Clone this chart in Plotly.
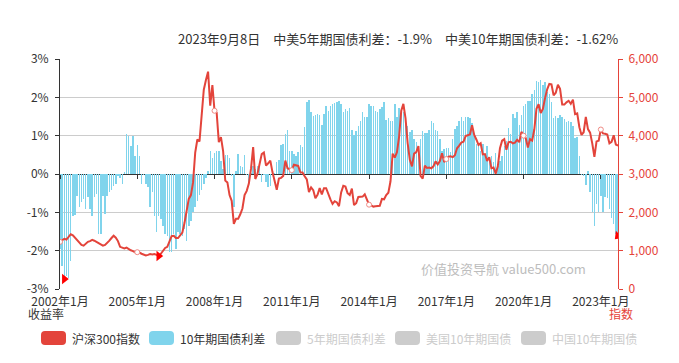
import plotly.graph_objects as go

# ---------------- data ----------------
n_months = 261
months = [f"{2002 + i // 12}年{i % 12 + 1}月" for i in range(n_months)]
tick_labels = ["2002年1月", "2005年1月", "2008年1月", "2011年1月",
               "2014年1月", "2017年1月", "2020年1月", "2023年1月"]

# 中美10年期国债利差 (%)
spread_10y = [
    -1.95, -2.4, -2.74, -2.65, -2.7, -2.26, -1.1, -1.08, -0.57, -0.87, -0.74, -0.65,
    -0.91, -0.61, -0.91, -1.09, -0.61, -0.52, -1.57, -1.57, -0.57, -1.04, -0.57, -0.48,
    -0.43, -0.3, -0.26, -0.05, -0.1, -0.26, 0.04, 1.04, 1.0, 0.74, 0.98, 0.48,
    0.76, 0.46, -0.26, -0.03, -0.26, -0.35, -0.87, -0.46, -1.09, -1.52, -1.09, -1.17,
    -1.35, -1.57, -1.61, -2.04, -2.04, -1.57, -1.96, -1.52, -1.57, -1.61, -1.43, -1.74,
    -1.35, -1.22, -1.0, -0.85, -0.7, -0.55, -0.43, -0.26, -0.11, 0.09, 0.61, 0.43,
    0.54, 0.6, 0.6, 0.35, 0.13, 0.5, 0.5, 0.43, -0.04, -0.87, 0.09, 0.52,
    0.22, 0.17, 0.5, -0.02, -0.22, 0.02, 0.22, 0.13, 0.22, 0.23, -0.22, -0.02,
    -0.22, -0.35, -0.3, 0.02, 0.03, 0.32, 0.37, 0.76, 0.78, 1.04, 1.16, 0.6,
    0.6, 0.52, 0.46, 0.57, 0.76, 0.7, 1.22, 1.89, 1.94, 1.61, 1.52, 1.54,
    1.57, 1.55, 1.28, 1.57, 1.77, 1.65, 1.77, 1.83, 1.85, 1.89,
    1.91, 1.83, 1.61, 1.7, 1.65, 1.71, 1.15, 1.02, 1.13, 1.26, 1.39, 1.61,
    1.5, 1.5, 1.83, 1.78, 1.78, 1.65, 1.61, 1.7, 1.74, 1.89, 1.42, 1.45,
    1.37, 1.39, 1.83, 1.48, 1.71, 1.7, 1.61, 1.48, 1.26, 1.1, 1.15, 0.91,
    0.83, 0.72, 0.91, 1.13, 1.07, 1.07, 1.16, 1.37, 1.33, 1.16, 1.13, 0.91,
    0.6, 0.65, 0.67, 0.67, 0.58, 0.91, 1.17, 1.26, 1.39, 1.5, 1.39, 1.48,
    1.48, 1.45, 1.33, 1.0, 0.78, 0.72, 0.6, 0.78, 0.52, 0.72, 0.41, 0.48,
    0.32, 0.55, 0.22, 0.35, 0.48, 0.72, 0.87, 1.2, 1.04, 1.57, 1.45, 1.61,
    1.28, 1.54, 1.77, 1.83, 1.91, 1.91, 2.1, 2.2, 2.43, 2.4, 2.46, 2.32,
    2.4, 2.15, 2.1, 1.87, 1.45, 1.52, 1.45, 1.54, 1.5, 1.43, 1.35, 1.39,
    1.35, 1.26, 0.93, 0.96, 0.48, -0.03, -0.06, -0.29, 0.09, -0.48, -1.0, -1.35,
    -0.78, -1.0, -0.57, -1.0, -0.61, -0.63, -0.9, -1.16, -1.3, -1.57, -1.62,
]

# 沪深300指数
csi300 = [
    1230, 1270, 1310, 1290, 1350, 1430, 1400, 1330, 1280, 1220, 1150, 1130,
    1180, 1230, 1250, 1280, 1260, 1230, 1180, 1150, 1130, 1150, 1200, 1260,
    1330, 1390, 1340, 1250, 1100, 1080, 1060, 1080, 1040, 1010, 990, 960,
    960, 950, 920, 890, 875, 890, 910, 900, 910, 890, 860, 920,
    1010, 1070, 1100, 1230, 1380, 1390, 1330, 1330, 1400, 1470, 1720, 2040,
    2350, 2450, 2780, 3560, 3900, 3850, 4500, 5200, 5450, 5670, 4780, 5320,
    4650, 4600, 3830, 3960, 3600, 2830, 2780, 2450, 2300, 1700, 1830, 1830,
    1950, 2100, 2450, 2560, 2750, 3140, 3700, 2870, 3000, 3250, 3520, 3560,
    3220, 3280, 3350, 3050, 2800, 2590, 2880, 2900, 2950, 3350, 3150, 3130,
    3100, 3240, 3220, 3210, 3040, 3040, 2940, 2860, 2530, 2650, 2580, 2370,
    2460, 2630, 2470, 2630, 2630, 2460, 2340, 2220, 2290, 2260, 2160, 2520,
    2690, 2670, 2500, 2450, 2620, 2190, 2240, 2400, 2410, 2410, 2470, 2330,
    2200, 2180, 2150, 2160, 2160, 2170, 2350, 2340, 2450, 2510, 2810, 3530,
    3430, 3570, 3970, 4650, 4830, 4450, 3800, 3370, 3200, 3530, 3570, 3730,
    2950, 2880, 3220, 3160, 3170, 3150, 3200, 3330, 3250, 3340, 3540, 3310,
    3390, 3450, 3460, 3440, 3490, 3670, 3740, 3820, 3840, 3990, 4010, 4030,
    4270, 4020, 3900, 3760, 3800, 3510, 3520, 3340, 3440, 3150, 3170, 3010,
    3200, 3670, 3870, 3910, 3630, 3830, 3840, 3800, 3820, 3890, 3830, 4100,
    4000, 3940, 3690, 3910, 3870, 4160, 4700, 4820, 4590, 4700, 4980, 5210,
    5350, 5340, 5050, 5120, 5330, 5220, 4810, 4810, 4870, 4910, 4830, 4940,
    4560, 4580, 4220, 4020, 4090, 4490, 4170, 4080, 3800, 3450, 3850, 3870,
    4160, 4060, 4050, 4030, 3800, 3840, 4010, 3770, 3740,
]

left_ticks = [-3, -2, -1, 0, 1, 2, 3]
right_ticks = [0, 1000, 2000, 3000, 4000, 5000, 6000]

title_text = "2023年9月8日　中美5年期国债利差：-1.9%　中美10年期国债利差：-1.62%"
legend_names = ["沪深300指数", "10年期国债利差", "5年期国债利差", "美国10年期国债", "中国10年期国债"]
legend_active = [True, True, False, False, False]

assert len(spread_10y) == n_months and len(csi300) == n_months

# ---------------- style ----------------
RED = "#e3443b"
AXIS_RED = "#e5433a"
BLUE = "#80d4ec"
GREY_TXT = "#333333"
FONT = "Noto Sans CJK SC"

W, H = 679, 363
L, R, T, B = 60, 61, 59, 74
PW, PH = W - L - R, H - T - B


def px_x(px):
    return (px - L) / PW


def px_y(py):
    return (T + PH - py) / PH


x = list(range(n_months))
tick_pos = [months.index(t) for t in tick_labels]

fig = go.Figure()

fig.add_trace(go.Bar(
    x=x, y=spread_10y, marker=dict(color=BLUE, line=dict(width=0)),
    width=0.68, yaxis="y", hoverinfo="skip", showlegend=False,
))

fig.add_trace(go.Scatter(
    x=x, y=csi300, mode="lines", line=dict(color=RED, width=2),
    yaxis="y2", hoverinfo="skip", showlegend=False,
))

fig.add_trace(go.Scatter(
    x=tick_pos, y=[csi300[i] for i in tick_pos], mode="markers",
    marker=dict(symbol="circle", size=5, color="white", line=dict(color="#f08a84", width=1)),
    yaxis="y2", hoverinfo="skip", showlegend=False,
))

# mark points
i_bar_min = spread_10y.index(min(spread_10y))
i_line_min = csi300.index(min(csi300))
i_last = n_months - 1
fig.add_trace(go.Scatter(
    x=[i_bar_min, i_last], y=[spread_10y[i_bar_min], spread_10y[i_last]], mode="markers",
    marker=dict(symbol=["triangle-right", "triangle-down"], angle=[0, 45], size=9, color="#ff0000"),
    yaxis="y", hoverinfo="skip", showlegend=False,
))
fig.add_trace(go.Scatter(
    x=[i_line_min], y=[csi300[i_line_min]], mode="markers",
    marker=dict(symbol="triangle-right", size=9, color="#ff0000"),
    yaxis="y2", hoverinfo="skip", showlegend=False,
))

# dummy trace to carry the zero-line tick axis
fig.add_trace(go.Scatter(
    x=[0, n_months - 1], y=[0, 0], xaxis="x2", yaxis="y", mode="lines",
    line=dict(width=0), opacity=0, hoverinfo="skip", showlegend=False,
))

# ---------------- custom legend ----------------
def rrect(x0, y0, x1, y1, r):
    pts = [
        ("M", (x0 + r, y0)), ("L", (x1 - r, y0)), ("Q", (x1, y0), (x1, y0 + r)),
        ("L", (x1, y1 - r)), ("Q", (x1, y1), (x1 - r, y1)), ("L", (x0 + r, y1)),
        ("Q", (x0, y1), (x0, y1 - r)), ("L", (x0, y0 + r)), ("Q", (x0, y0), (x0 + r, y0)),
    ]
    s = ""
    for p in pts:
        cmd = p[0]
        coords = " ".join(f"{px_x(a):.5f},{px_y(b):.5f}" for a, b in p[1:])
        s += f"{cmd}{coords} "
    return s + "Z"


shapes = []
annotations = []
legend_colors = [RED, BLUE, "#cccccc", "#cccccc", "#cccccc"]
legend_sw_x = [41, 149, 276, 395, 521]
leg_y = 338
for name, col, active, sx in zip(legend_names, legend_colors, legend_active, legend_sw_x):
    shapes.append(dict(type="path", xref="paper", yref="paper",
                       path=rrect(sx, leg_y - 7, sx + 25, leg_y + 7, 4),
                       fillcolor=col if active else "#cccccc", line=dict(width=0)))
    annotations.append(dict(text=name, xref="paper", yref="paper",
                            x=px_x(sx + 29), y=px_y(leg_y), xanchor="left", yanchor="middle",
                            showarrow=False,
                            font=dict(size=12, color=GREY_TXT if active else "#cccccc", family=FONT)))

annotations += [
    dict(text=title_text, xref="paper", yref="paper", x=px_x(620), y=px_y(38),
         xanchor="right", yanchor="middle", showarrow=False,
         font=dict(size=13, color=GREY_TXT, family=FONT)),
    dict(text="收益率", xref="paper", yref="paper", x=px_x(46), y=px_y(313),
         xanchor="center", yanchor="middle", showarrow=False,
         font=dict(size=12, color=GREY_TXT, family=FONT)),
    dict(text="指数", xref="paper", yref="paper", x=px_x(621), y=px_y(313),
         xanchor="center", yanchor="middle", showarrow=False,
         font=dict(size=12, color=AXIS_RED, family=FONT)),
    dict(text="价值投资导航 value500.com", xref="paper", yref="paper", x=px_x(588), y=px_y(268),
         xanchor="right", yanchor="middle", showarrow=False,
         font=dict(size=13, color="#bdbdbd", family=FONT)),
]

fig.update_layout(
    width=W, height=H,
    margin=dict(l=L, r=R, t=T, b=B, pad=0),
    paper_bgcolor="white", plot_bgcolor="white",
    font=dict(family=FONT, size=12, color=GREY_TXT),
    showlegend=False, bargap=0, hovermode=False,
    shapes=shapes, annotations=annotations,
    xaxis=dict(range=[0, n_months - 1], tickvals=tick_pos, ticktext=tick_labels,
               showgrid=False, showline=False, zeroline=False, ticks="",
               ticklabelstandoff=4, tickfont=dict(size=12, color=GREY_TXT)),
    xaxis2=dict(range=[0, n_months - 1], overlaying="x", anchor="free", position=0.5,
                side="bottom", tickvals=tick_pos, ticks="outside", ticklen=4,
                tickcolor="#333333", showticklabels=False, showgrid=False,
                showline=False, zeroline=False),
    yaxis=dict(range=[-3, 3], tickvals=left_ticks, ticktext=[f"{v}%" for v in left_ticks],
               showline=True, linecolor="#333333", linewidth=1, ticks="outside", ticklen=4,
               tickcolor="#333333", gridcolor="#cccccc", gridwidth=1,
               zeroline=True, zerolinecolor="#333333", zerolinewidth=1,
               tickfont=dict(size=12, color=GREY_TXT), ticklabelstandoff=4),
    yaxis2=dict(range=[0, 6000], overlaying="y", side="right", tickvals=right_ticks,
                tickformat=",", showgrid=False, showline=True, linecolor=AXIS_RED,
                linewidth=1, ticks="outside", ticklen=4, tickcolor=AXIS_RED,
                zeroline=False, tickfont=dict(size=12, color=AXIS_RED), ticklabelstandoff=3),
)

fig.write_html("out.html", config={"displayModeBar": False, "staticPlot": True},
               post_script="document.body.style.margin='0px';document.body.style.overflow='hidden';")
